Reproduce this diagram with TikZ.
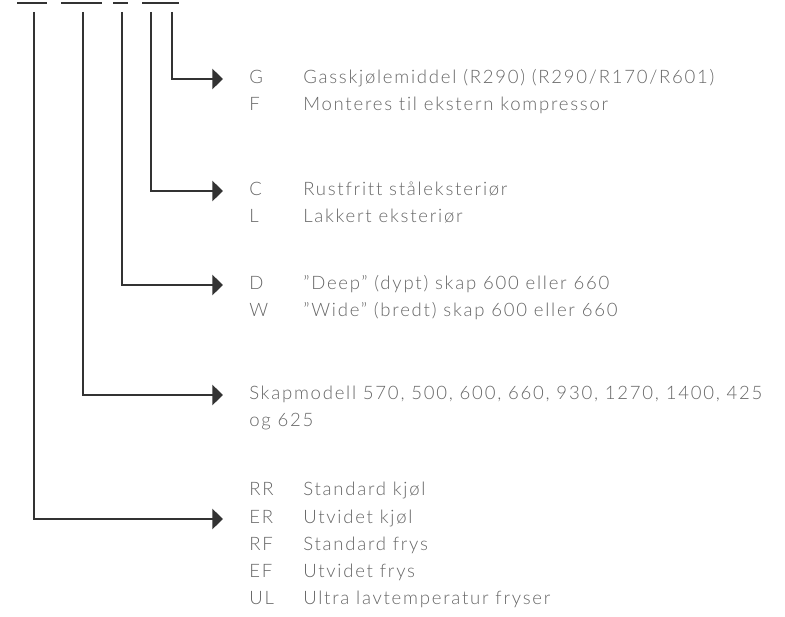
\documentclass[tikz,border=0pt]{standalone}
\usepackage{fontspec}
\setmainfont{Lato Light}[LetterSpace=9.5,Ligatures=NoCommon,Numbers=Monospaced]
\usetikzlibrary{arrows.meta}

\colorlet{rule}{black!80}
\colorlet{label}{black!60}
\tikzset{
  code/.style={anchor=west,inner sep=0pt,text=label,text height=0.9em,text depth=0.2em,
    font=\fontsize{13.9}{16}\selectfont},
  desc/.style={code},
  blank/.style={line width=2pt,draw=rule},
  lead/.style={-{Triangle[length=8pt,width=15pt]},line width=1.9pt,draw=rule,shorten >=19.5pt},
}

\begin{document}
\begin{tikzpicture}[x=0.75pt,y=-0.75pt]
  \useasboundingbox (0,0) rectangle (785,617);

  % code placeholders
  \foreach \a/\b in {17/47,61/102,113/128,142/179}
  {
    \draw [blank] (\a,3) -- (\b,3);
  }
  \foreach \i/\x in {1/34,2/83,3/122,4/151,5/172}
  {
    \coordinate (t\i) at (\x,12);
  }

  % options
  \foreach \c/\t/\y in {G/{Gasskjølemiddel (R290) (R290/R170/R601)}/79,
                        F/{Monteres til ekstern kompressor}/106,
                        C/{Rustfritt ståleksteriør}/191,
                        L/{Lakkert eksteriør}/218,
                        D/{”Deep” (dypt) skap 600 eller 660}/285,
                        W/{”Wide” (bredt) skap 600 eller 660}/312,
                        RR/{Standard kjøl}/491,
                        ER/{Utvidet kjøl}/519,
                        RF/{Standard frys}/546,
                        EF/{Utvidet frys}/573,
                        UL/{Ultra lavtemperatur fryser}/600}
  {
    \node [code] at (249,\y) (\c) {\c};
    \node [desc] at (303,\y) (\c-text) {\t};
  }
  \node [desc] at (249,395) (model) {Skapmodell 570, 500, 600, 660, 930, 1270, 1400, 425};
  \node [desc] at (249,422) (model-2) {og 625};

  % leaders
  \draw [lead] (t5) |- (G);
  \draw [lead] (t4) |- (C);
  \draw [lead] (t3) |- (D);
  \draw [lead] (t2) |- (model);
  \draw [lead] (t1) |- (ER);
\end{tikzpicture}
\end{document}
